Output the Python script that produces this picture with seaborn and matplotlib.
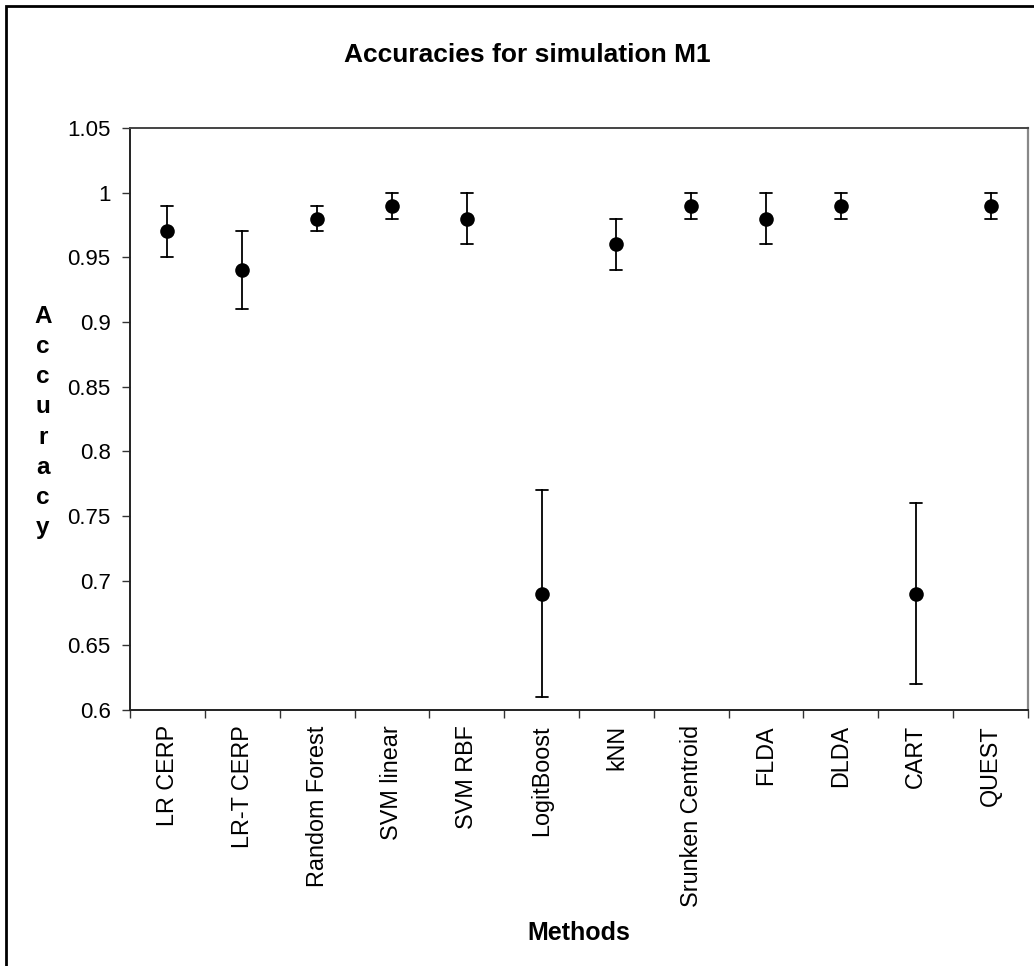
import numpy as np
import pandas as pd
import matplotlib
matplotlib.use("Agg")
import matplotlib.pyplot as plt
from matplotlib.patches import Rectangle
from matplotlib.ticker import FixedLocator, FuncFormatter
import seaborn as sns

# Accuracy summaries per classification method (point estimate with interval bounds)
methods = ["LR CERP", "LR-T CERP", "Random Forest", "SVM linear", "SVM RBF",
           "LogitBoost", "kNN", "Srunken Centroid", "FLDA", "DLDA", "CART", "QUEST"]
accuracy = [0.97, 0.94, 0.98, 0.99, 0.98, 0.69, 0.96, 0.99, 0.98, 0.99, 0.69, 0.99]
lower = [0.95, 0.91, 0.97, 0.98, 0.96, 0.61, 0.94, 0.98, 0.96, 0.98, 0.62, 0.98]
upper = [0.99, 0.97, 0.99, 1.00, 1.00, 0.77, 0.98, 1.00, 1.00, 1.00, 0.76, 1.00]
y_ticks = [0.6, 0.65, 0.7, 0.75, 0.8, 0.85, 0.9, 0.95, 1.0, 1.05]

# long table: the median of (lower, estimate, upper) is the estimate,
# and the full 0-100 percentile interval spans lower..upper
long = pd.DataFrame({
    "Method": methods * 3,
    "Accuracy": lower + accuracy + upper,
})

sns.set_theme(style="white")
plt.rcParams["font.family"] = ["Liberation Sans", "DejaVu Sans"]
plt.rcParams["text.color"] = "black"

W, H = 1034, 966
fig = plt.figure(figsize=(W / 100, H / 100), dpi=100)
left, right, top, bottom = 130, 1028, 128, 710
ax = fig.add_axes([left / W, 1 - bottom / H, (right - left) / W, (bottom - top) / H])

sns.pointplot(
    data=long, x="Method", y="Accuracy", order=methods,
    estimator="median", errorbar=("pi", 100),
    color="black", linestyle="none", markers="o",
    markersize=10.5, markeredgewidth=0,
    capsize=0.16, err_kws={"linewidth": 1.3, "color": "black"},
    ax=ax,
)

ax.set_xlim(-0.5, len(methods) - 0.5)
ax.set_ylim(0.6, 1.05)

# category labels at centres, tick marks at category boundaries
ax.set_xticks(range(len(methods)))
ax.set_xticklabels(methods, rotation=90, fontsize=16.8, color="black")
ax.xaxis.set_minor_locator(FixedLocator(np.arange(-0.5, len(methods), 1.0)))
ax.tick_params(axis="x", which="major", length=0, pad=11)
ax.tick_params(axis="x", which="minor", bottom=True, length=6, width=1, color="#333333")

ax.yaxis.set_major_locator(FixedLocator(y_ticks))
ax.yaxis.set_major_formatter(FuncFormatter(lambda v, p: f"{round(v, 2):g}"))
ax.tick_params(axis="y", which="major", left=True, length=6, width=1,
               color="#333333", labelsize=16, pad=8, labelcolor="black")

for side in ["left", "bottom"]:
    ax.spines[side].set_color("#222222")
    ax.spines[side].set_linewidth(1.4)
ax.spines["top"].set_color("#444444")
ax.spines["top"].set_linewidth(1.4)
ax.spines["right"].set_color("#888888")
ax.spines["right"].set_linewidth(1.6)

ax.set_xlabel("")
ax.set_ylabel("")
ax.grid(False)

fig.text(527 / W, 1 - 55 / H, "Accuracies for simulation M1",
         ha="center", va="center", fontsize=19, fontweight="bold", color="black")
fig.text(579 / W, 1 - 933 / H, "Methods",
         ha="center", va="center", fontsize=18, fontweight="bold", color="black")
fig.text(43 / W, 1 - 422 / H, "\n".join("Accuracy"),
         ha="center", va="center", fontsize=17.5, fontweight="bold",
         linespacing=1.40, color="black")

# outer chart frame
fig.add_artist(Rectangle((6 / W, -0.05), 1.2, 1.05 - 6 / H,
                         transform=fig.transFigure, fill=False,
                         edgecolor="black", linewidth=2.0))

fig.savefig("out.png", dpi=100, facecolor="white")
